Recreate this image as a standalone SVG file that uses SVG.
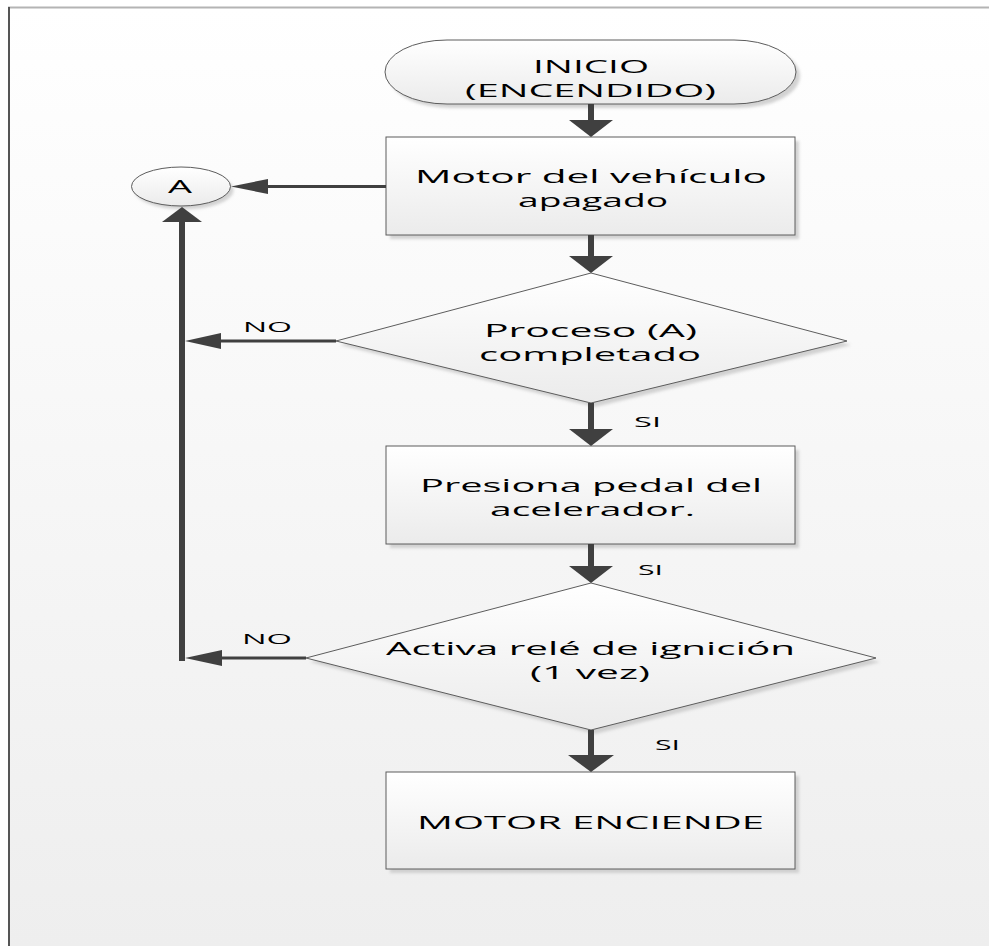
<svg xmlns="http://www.w3.org/2000/svg" width="989" height="946" viewBox="0 0 989 946">
<defs>
<linearGradient id="bg" x1="0" y1="0" x2="0" y2="1">
<stop offset="0" stop-color="#ffffff"/>
<stop offset="1" stop-color="#eeeeee"/>
</linearGradient>
<linearGradient id="nodefill" x1="0" y1="0" x2="0" y2="1">
<stop offset="0" stop-color="#ffffff"/>
<stop offset="1" stop-color="#ebebeb"/>
</linearGradient>
<filter id="sh" x="-10%" y="-10%" width="130%" height="140%">
<feGaussianBlur stdDeviation="1.5"/>
</filter>
</defs>
<style>
.shape{fill:url(#nodefill);stroke:#5c5c5c;stroke-width:1}
.shadow{fill:#c8c8c8;filter:url(#sh);opacity:0.8}
.t{font-family:"Open Sans","DejaVu Sans",sans-serif;font-size:19px;fill:#000}
.lbl{font-family:"Open Sans","DejaVu Sans",sans-serif;font-size:15px;fill:#000}
.thick{stroke:#404040;stroke-width:6;fill:none}
.thin{stroke:#404040;stroke-width:3;fill:none}
.head{fill:#404040;stroke:none}
</style>
<rect x="0" y="0" width="989" height="946" fill="#ffffff"/>
<rect x="8" y="7" width="981" height="939" fill="url(#bg)"/>
<line x1="8" y1="7.5" x2="989" y2="7.5" stroke="#b4b4b4" stroke-width="2"/>
<line x1="9" y1="7" x2="9" y2="946" stroke="#555555" stroke-width="2"/>

<g id="start">
<path class="shadow" d="M451,44 H738 A62,32 0 0 1 738,108 H451 A62,32 0 0 1 451,44 Z"/>
<path class="shape" d="M447,40 H734 A62,32 0 0 1 734,104 H447 A62,32 0 0 1 447,40 Z"/>
<text class="t" x="533" y="73" textLength="116" lengthAdjust="spacingAndGlyphs">INICIO</text>
<text class="t" x="465" y="97" textLength="251" lengthAdjust="spacingAndGlyphs">(ENCENDIDO)</text>
</g>

<g id="motor-apagado">
<rect class="shadow" x="390" y="141" width="409" height="98"/>
<rect class="shape" x="386" y="137" width="409" height="98"/>
<text class="t" x="415" y="183" textLength="352" lengthAdjust="spacingAndGlyphs">Motor del vehículo</text>
<text class="t" x="518" y="207" textLength="150" lengthAdjust="spacingAndGlyphs">apagado</text>
</g>

<g id="connector-a">
<ellipse class="shadow" cx="184" cy="190" rx="49.5" ry="19.5"/>
<ellipse class="shape" cx="181" cy="186.5" rx="49.5" ry="19.5"/>
<text class="t" x="168" y="193" textLength="24" lengthAdjust="spacingAndGlyphs">A</text>
</g>

<g id="proceso-completado">
<polygon class="shadow" points="595,277 851,345 595,407 340,345"/>
<polygon class="shape" points="591,273 847,341 591,403 336,341"/>
<text class="t" x="484" y="337" textLength="213" lengthAdjust="spacingAndGlyphs">Proceso (A)</text>
<text class="t" x="479" y="361" textLength="222" lengthAdjust="spacingAndGlyphs">completado</text>
</g>

<g id="presiona-pedal">
<rect class="shadow" x="390" y="450" width="409" height="98"/>
<rect class="shape" x="386" y="446" width="409" height="98"/>
<text class="t" x="420" y="492" textLength="342" lengthAdjust="spacingAndGlyphs">Presiona pedal del</text>
<text class="t" x="490" y="516" textLength="205" lengthAdjust="spacingAndGlyphs">acelerador.</text>
</g>

<g id="activa-rele">
<polygon class="shadow" points="595,587 880,662 595,734 310,662"/>
<polygon class="shape" points="591,583 876,658 591,730 306,658"/>
<text class="t" x="386" y="655" textLength="409" lengthAdjust="spacingAndGlyphs">Activa relé de ignición</text>
<text class="t" x="530" y="679" textLength="120" lengthAdjust="spacingAndGlyphs">(1 vez)</text>
</g>

<g id="motor-enciende">
<rect class="shadow" x="390" y="776" width="409" height="97"/>
<rect class="shape" x="386" y="772" width="409" height="97"/>
<text class="t" x="417" y="829" textLength="347" lengthAdjust="spacingAndGlyphs">MOTOR ENCIENDE</text>
</g>

<g id="connectors">
<line class="thick" x1="591" y1="104" x2="591" y2="122"/>
<polygon class="head" points="569,120 613,120 591,137"/>
<line class="thick" x1="591" y1="235" x2="591" y2="258"/>
<polygon class="head" points="569,256 613,256 591,273"/>
<line class="thick" x1="591" y1="403" x2="591" y2="431"/>
<polygon class="head" points="569,429 613,429 591,446"/>
<line class="thick" x1="591" y1="544" x2="591" y2="568"/>
<polygon class="head" points="569,566 613,566 591,583"/>
<line class="thick" x1="591" y1="730" x2="591" y2="757"/>
<polygon class="head" points="568,755 614,755 591,772"/>
<line class="thin" x1="386" y1="186.5" x2="266" y2="186.5"/>
<polygon class="head" points="268,179 268,194 231,186.5"/>
<line class="thick" x1="182" y1="661" x2="182" y2="220"/>
<polygon class="head" points="162,222 202,222 182,207"/>
<line class="thin" x1="336" y1="341" x2="218" y2="341"/>
<polygon class="head" points="221,333 221,349 185,341"/>
<line class="thin" x1="306" y1="658" x2="218" y2="658"/>
<polygon class="head" points="222,650 222,666 185,658"/>
<text class="lbl" x="243" y="332" textLength="49" lengthAdjust="spacingAndGlyphs">NO</text>
<text class="lbl" x="242" y="644" textLength="50" lengthAdjust="spacingAndGlyphs">NO</text>
<text class="lbl" x="634" y="427" textLength="27" lengthAdjust="spacingAndGlyphs">SI</text>
<text class="lbl" x="638" y="575" textLength="25" lengthAdjust="spacingAndGlyphs">SI</text>
<text class="lbl" x="655" y="750" textLength="25" lengthAdjust="spacingAndGlyphs">SI</text>
</g>
</svg>
